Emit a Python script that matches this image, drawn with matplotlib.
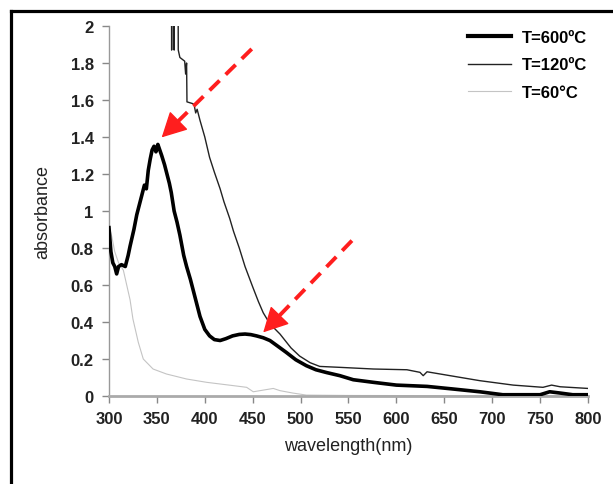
import matplotlib.pyplot as plt
from matplotlib.lines import Line2D

# absorbance spectra, wavelength in nm
wl_600 = [300, 302, 304, 306, 308, 310, 313, 317, 320, 322, 326, 329, 332, 334,
          337, 339, 341, 343, 345, 347, 349, 351, 353, 355, 358, 360, 363, 365,
          368, 371, 374, 378, 381, 385, 390, 395, 400, 405, 410, 416, 422, 429,
          436, 442, 448, 454, 461, 468, 476, 485, 495, 506, 516, 527, 541, 555,
          576, 600, 632, 659, 687, 711, 750, 760, 771, 784, 800]
abs_600 = [0.91, 0.78, 0.72, 0.70, 0.66, 0.70, 0.71, 0.70, 0.76, 0.81, 0.90, 0.98,
           1.04, 1.08, 1.14, 1.12, 1.22, 1.28, 1.33, 1.35, 1.32, 1.36, 1.33, 1.30,
           1.25, 1.21, 1.15, 1.10, 1.00, 0.94, 0.87, 0.76, 0.70, 0.63, 0.53, 0.43,
           0.36, 0.325, 0.305, 0.30, 0.31, 0.325, 0.333, 0.335, 0.332, 0.325, 0.315,
           0.30, 0.27, 0.236, 0.196, 0.164, 0.142, 0.127, 0.11, 0.088, 0.074, 0.059,
           0.052, 0.038, 0.023, 0.007, 0.007, 0.023, 0.016, 0.007, 0.007]

# T=120 is off scale below ~365 nm (saturated detector)
wl_120 = [300, 365.0, 365.4, 365.8, 367.8, 368.0, 368.3, 372.0, 372.3, 374, 379,
          380, 381, 381.4, 387.7, 389, 390.5, 392, 395, 400, 405, 410, 416, 420,
          426, 430, 436, 442, 450, 456, 461, 468, 478.5, 490, 499, 510, 520, 541,
          576, 611, 624.6, 628, 632, 656, 687, 722, 753, 762, 771, 800]
abs_120 = [2.5, 2.5, 1.87, 2.5, 2.5, 1.87, 2.5, 2.5, 1.87, 1.83, 1.81, 1.74, 1.80,
           1.59, 1.58, 1.57, 1.53, 1.55, 1.49, 1.40, 1.29, 1.21, 1.12, 1.05, 0.96,
           0.89, 0.80, 0.70, 0.59, 0.51, 0.45, 0.39, 0.335, 0.26, 0.216, 0.18, 0.16,
           0.155, 0.146, 0.142, 0.128, 0.11, 0.131, 0.11, 0.083, 0.059, 0.047, 0.059,
           0.05, 0.041]

wl_60 = [300, 303, 306, 310, 315, 322, 325, 330.6, 335.8, 346, 360, 381, 402, 430,
         443.7, 450.6, 457.6, 471.5, 478.5, 492, 506, 550, 650, 800]
abs_60 = [0.92, 0.86, 0.78, 0.72, 0.68, 0.52, 0.416, 0.29, 0.20, 0.146, 0.119, 0.092,
          0.074, 0.056, 0.047, 0.023, 0.029, 0.041, 0.029, 0.016, 0.005, 0.003,
          0.002, 0.002]

labels = ['T=600ºC', 'T=120ºC', 'T=60°C']
x_ticks = [300, 350, 400, 450, 500, 550, 600, 650, 700, 750, 800]
y_ticks = [0, 0.2, 0.4, 0.6, 0.8, 1.0, 1.2, 1.4, 1.6, 1.8, 2.0]
y_ticklabels = ['0', '0.2', '0.4', '0.6', '0.8', '1', '1.2', '1.4', '1.6', '1.8', '2']

# arrows pointing at the two absorption bands: (tail, tip)
arrows = [((449, 1.876), (355, 1.398)),
          ((553.6, 0.84), (461, 0.344))]
arrow_red = '#ff1e1e'

plt.rcParams['font.family'] = ['Liberation Sans', 'DejaVu Sans']

fig = plt.figure(figsize=(6.13, 4.85), dpi=100)
ax = fig.add_axes([0.1778, 0.1814, 0.7814, 0.7629])

ax.plot(wl_600, abs_600, color='black', lw=2.6, label=labels[0], zorder=4)
ax.plot(wl_120, abs_120, color='#222222', lw=1.0, label=labels[1], zorder=3)
ax.plot(wl_60, abs_60, color='#c4c4c4', lw=0.8, label=labels[2], zorder=2)

for (x0, y0), (x1, y1) in arrows:
    # dashed shaft stops where the solid head begins
    f = 0.16
    bx, by = x1 + (x0 - x1) * f, y1 + (y0 - y1) * f
    ax.plot([x0, bx], [y0, by], color=arrow_red, lw=2.8,
            dashes=(3.6, 2.2), solid_capstyle='butt', zorder=5)
    ax.annotate('', xy=(x1, y1), xytext=(bx, by),
                arrowprops=dict(arrowstyle='-|>,head_length=1.05,head_width=0.55',
                                color=arrow_red, lw=1, mutation_scale=15,
                                shrinkA=0, shrinkB=0), zorder=5)

ax.set_xlim(300, 800)
ax.set_ylim(0, 2)
ax.set_xticks(x_ticks)
ax.set_yticks(y_ticks)
ax.set_yticklabels(y_ticklabels)

for side in ['top', 'right']:
    ax.spines[side].set_visible(False)
ax.spines['left'].set_color('#999999')
ax.spines['left'].set_linewidth(1.0)
ax.spines['bottom'].set_color('#aaaaaa')
ax.spines['bottom'].set_linewidth(2.0)
ax.tick_params(axis='both', direction='out', length=5, color='#888888', width=1,
               labelsize=12, pad=6)
for lab in ax.get_xticklabels() + ax.get_yticklabels():
    lab.set_fontweight('bold')
    lab.set_color('#222222')

ax.set_xlabel('wavelength(nm)', fontsize=13, labelpad=8, color='#222222')
ax.set_ylabel('absorbance', fontsize=13, labelpad=14, color='#222222')

leg = ax.legend(loc='upper right', frameon=False, handlelength=2.6,
                bbox_to_anchor=(1.03, 1.03), labelspacing=0.75, handletextpad=0.65,
                prop={'size': 12, 'weight': 'bold'})
leg.get_lines()[0].set_linewidth(3.0)

# border round the figure (top and left edges only)
fig.add_artist(Line2D([11 / 613, 11 / 613], [0, 1 - 12 / 485], color='black', lw=2.3))
fig.add_artist(Line2D([11 / 613, 1], [1 - 12 / 485, 1 - 12 / 485], color='black', lw=2.3))

fig.savefig('out.png', dpi=100)
